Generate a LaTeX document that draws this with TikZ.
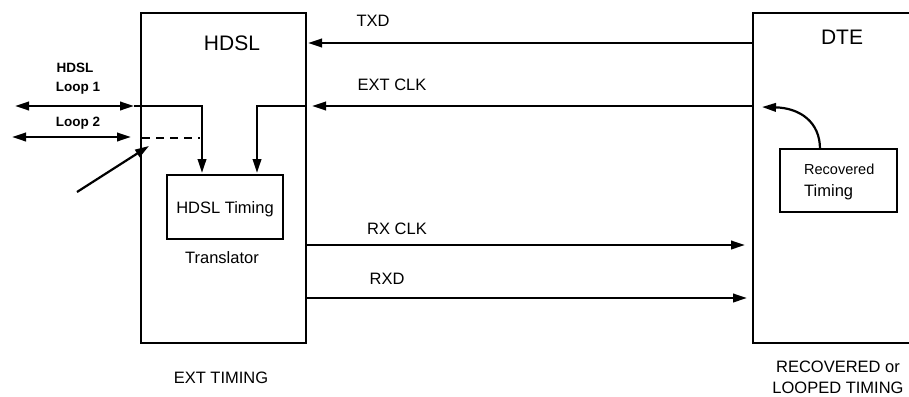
\documentclass[tikz,border=0pt]{standalone}
\usepackage{fontspec}
\setmainfont{Liberation Sans}
\usetikzlibrary{arrows.meta}
\begin{document}
\begin{tikzpicture}[x=1pt,y=-1pt,
  box/.style={draw,line width=2.8pt,inner sep=0pt},
  ibox/.style={draw,line width=2.4pt,inner sep=0pt},
  wire/.style={line width=2.2pt},
  arr/.style={wire,-{Triangle[length=14pt,width=8.5pt]}},
  arrb/.style={wire,{Triangle[length=14pt,width=8.5pt]}-{Triangle[length=14pt,width=8.5pt]}},
  title/.style={font=\fontsize{21}{23}\selectfont},
  lbl/.style={font=\fontsize{16.5}{18}\selectfont},
  sml/.style={font=\bfseries\fontsize{13.5}{16}\selectfont,align=left},
]
\clip (0,0) rectangle (909,396);
\fill[white] (0,0) rectangle (909,396);
% main boxes
\node[box,minimum width=165pt,minimum height=330pt] (hdsl) at (223.5,178) {};
\node[box,minimum width=180pt,minimum height=330pt] (dte) at (843,178) {};
\node[title] (hdslt) at (232,43) {HDSL};
\node[title] (dtet) at (842,37) {DTE};
% inner boxes
\node[ibox,minimum width=116pt,minimum height=64pt] (tim) at (225,207) {};
\node[lbl] (timt) at (225,209) {HDSL Timing};
\node[lbl] (trans) at (222,258) {Translator};
\node[ibox,minimum width=117pt,minimum height=63pt] (rec) at (838.5,180.5) {};
\node[font=\fontsize{14.5}{16}\selectfont,anchor=west,inner sep=0pt] (rect1) at (804,169) {Recovered};
\node[lbl,anchor=west,inner sep=0pt] (rect2) at (804,192) {Timing};
% coordinates
\coordinate (txdA) at (753,43);
\coordinate (txdB) at (308,43);
\coordinate (ecA) at (753,106);
\coordinate (ecB) at (312,106);
\coordinate (ecC) at (306,106);
\coordinate (ecD) at (257,173);
\coordinate (rxA) at (306,245);
\coordinate (rxB) at (745,245);
\coordinate (rdA) at (306,298);
\coordinate (rdB) at (747,298);
\coordinate (l1L) at (15,106);
\coordinate (l1R) at (134,106);
\coordinate (l1D) at (202,173);
\coordinate (l2L) at (12,137);
\coordinate (l2R) at (131,137);
\coordinate (dA) at (142,138);
\coordinate (dB) at (200,138);
\coordinate (pA) at (77,192);
\coordinate (pB) at (149,146);
\coordinate (cvA) at (820,149);
\coordinate (cvB) at (762,107);
% connectors
\draw[arr] (txdA) -- (txdB);
\draw[arr] (ecA) -- (ecB);
\draw[arr] (ecC) -| (ecD);
\draw[arr] (rxA) -- (rxB);
\draw[arr] (rdA) -- (rdB);
\draw[arrb] (l1L) -- (l1R);
\draw[arr] (l1R) -| (l1D);
\draw[arrb] (l2L) -- (l2R);
\draw[wire,dash pattern=on 8pt off 6pt] (dA) -- (dB);
\draw[arr] (pA) -- (pB);
\draw[arr] (cvA) .. controls (820,122) and (800,108) .. (cvB);
% labels
\node[lbl] (txd) at (373,21) {TXD};
\node[lbl] (ext) at (392,85) {EXT CLK};
\node[lbl] (rxc) at (397,229) {RX CLK};
\node[lbl] (rxd) at (387,279) {RXD};
\node[sml] (hl) at (75,68) {HDSL};
\node[sml] (lp1) at (78,88) {Loop 1};
\node[sml] (lp2) at (78,123) {Loop 2};
\node[lbl] (extt) at (221,378) {EXT TIMING};
\node[lbl] (rc1) at (838,367) {RECOVERED or};
\node[lbl] (rc2) at (838,388) {LOOPED TIMING};
\end{tikzpicture}
\end{document}
